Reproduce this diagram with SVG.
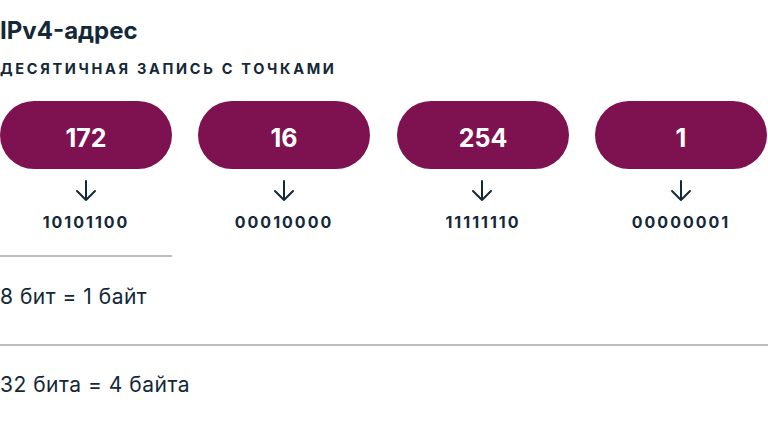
<svg xmlns="http://www.w3.org/2000/svg" width="768" height="430" viewBox="0 0 768 430">
<style>
.t{font-family:Inter,"Noto Sans",sans-serif;fill:#142838}
.pill{fill:#7e1150}
.pv{font-family:Inter,"Noto Sans",sans-serif;font-weight:700;font-size:25px;fill:#ffffff;text-anchor:middle}
.bin{font-family:Inter,"Noto Sans",sans-serif;font-weight:700;font-size:16px;fill:#142838;text-anchor:middle;letter-spacing:2px}
.arr{stroke:#142838;stroke-width:2;fill:none;stroke-linecap:round;stroke-linejoin:round}
.rule{stroke:#bdbdbd;stroke-width:2}
</style>
<rect width="768" height="430" fill="#ffffff"/>
<text class="t" x="0" y="39" font-size="24" font-weight="700">IPv4-адрес</text>
<text class="t" x="0" y="74" font-size="14.5" font-weight="700" letter-spacing="2.7">ДЕСЯТИЧНАЯ ЗАПИСЬ С ТОЧКАМИ</text>
<g id="octet1"><rect class="pill" x="0" y="101" width="172" height="68" rx="34"/><text class="pv" x="86" y="147">172</text><text class="bin" x="86" y="228">10101100</text></g>
<g id="octet2"><rect class="pill" x="198" y="101" width="172" height="68" rx="34"/><text class="pv" x="284" y="147">16</text><text class="bin" x="284" y="228">00010000</text></g>
<g id="octet3"><rect class="pill" x="397" y="101" width="172" height="68" rx="34"/><text class="pv" x="483" y="147">254</text><text class="bin" x="483" y="228">11111110</text></g>
<g id="octet4"><rect class="pill" x="595" y="101" width="172" height="68" rx="34"/><text class="pv" x="681" y="147">1</text><text class="bin" x="681" y="228">00000001</text></g>
<g id="connectors">
<path class="arr" d="M86 181V200M77 191L86 200L95 191"/>
<path class="arr" d="M284 181V200M275 191L284 200L293 191"/>
<path class="arr" d="M482 181V200M473 191L482 200L491 191"/>
<path class="arr" d="M681 181V200M672 191L681 200L690 191"/>
</g>
<line class="rule" x1="0" y1="256" x2="172" y2="256"/>
<text class="t" x="0" y="304" font-size="21" letter-spacing="0.5">8 бит = 1 байт</text>
<line class="rule" x1="0" y1="345" x2="768" y2="345"/>
<text class="t" x="0" y="392" font-size="21" letter-spacing="0.5">32 бита = 4 байта</text>
</svg>
